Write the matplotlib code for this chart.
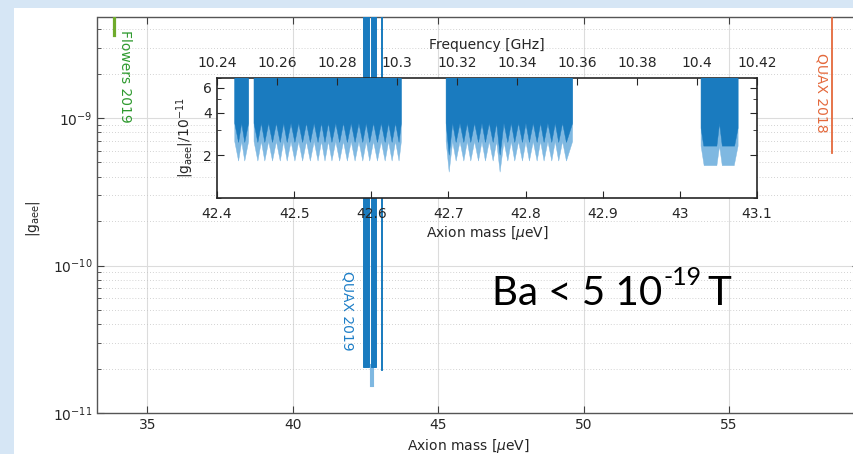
import matplotlib
matplotlib.use("Agg")
import matplotlib.pyplot as plt
import numpy as np
from matplotlib.patches import Rectangle
from matplotlib.ticker import FixedLocator, NullFormatter, LogLocator

# ---------------- data ----------------
# inset curves in units of 1e-11, x in ueV
b1_edges = [42.423, 42.441]
b1_tips = [42.428, 42.436]
b1_dark = [2.46, 2.46]
b1_light = [1.82, 1.82]

b2_edges = [42.448, 42.639]
b2_tips = [42.453, 42.462, 42.472, 42.482, 42.491, 42.501, 42.511, 42.521, 42.531, 42.540,
           42.549, 42.559, 42.569, 42.579, 42.589, 42.598, 42.608, 42.618, 42.627, 42.636]
b2_dark = [2.46, 2.46, 2.46, 2.46, 2.46, 2.46, 2.46, 2.46, 2.46, 2.46,
           2.46, 2.46, 2.46, 2.46, 2.46, 2.46, 2.46, 2.46, 2.46, 2.46]
b2_light = [1.82, 1.82, 1.82, 1.82, 1.82, 1.82, 1.82, 1.82, 1.82, 1.82,
            1.82, 1.82, 1.82, 1.82, 1.82, 1.82, 1.82, 1.82, 1.82, 1.82]

b3_edges = [42.697, 42.861]
b3_tips = [42.701, 42.710, 42.720, 42.729, 42.739, 42.748, 42.758, 42.767, 42.777,
           42.786, 42.796, 42.805, 42.815, 42.824, 42.834, 42.843, 42.853]
b3_dark = [2.0, 2.46, 2.46, 2.46, 2.46, 2.46, 2.46, 2.0, 2.46,
           2.46, 2.46, 2.46, 2.46, 2.46, 2.46, 2.46, 2.46]
b3_light = [1.52, 1.82, 1.82, 1.82, 1.82, 1.82, 1.82, 1.52, 1.82,
            1.82, 1.82, 1.82, 1.82, 1.82, 1.82, 1.82, 1.82]

ridge_dark = 3.36
ridge_light = 2.5

b4_x_dark = [43.0275, 43.0275, 43.031, 43.048, 43.0515, 43.055, 43.071, 43.0755, 43.0755]
b4_dark = [1000, 3.1, 2.32, 2.32, 3.35, 2.32, 2.32, 3.1, 1000]
b4_x_light = [43.0275, 43.0275, 43.0315, 43.048, 43.0515, 43.055, 43.0705, 43.0755, 43.0755]
b4_light = [1000, 2.32, 1.69, 1.69, 2.32, 1.69, 1.69, 2.32, 1000]

# full-range panel: dark bands down to a floor, light spike at the deep tips
main_dark_floor = [2.05, 2.05, 2.05, 1.95]
main_spike_x = [42.701, 42.767]
main_spike_low = [1.52, 1.52]

top_val = 1000  # above every axis top

flowers_x = 33.87
flowers_bottom = 3.65e-9
quax18_x = 58.53
quax18_bottom = 5.8e-10

main_xticks = [35, 40, 45, 50, 55]
inset_xticks = [42.4, 42.5, 42.6, 42.7, 42.8, 42.9, 43.0, 43.1]
inset_xlabels = ["42.4", "42.5", "42.6", "42.7", "42.8", "42.9", "43", "43.1"]
freq_ticks = [10.24, 10.26, 10.28, 10.30, 10.32, 10.34, 10.36, 10.38, 10.40, 10.42]
freq_labels = ["10.24", "10.26", "10.28", "10.3", "10.32", "10.34", "10.36", "10.38", "10.4", "10.42"]
inset_yticks = [2, 4, 6]

dark_c = "#1a7bbf"
light_c = "#7fb8e1"
axcol = "#262626"


def saw(edges, tips, vals, ridge):
    xs = [edges[0], edges[0]]
    ys = [top_val, ridge]
    for i in range(len(tips)):
        if i > 0:
            xs.append((tips[i - 1] + tips[i]) / 2)
            ys.append(ridge)
        xs.append(tips[i])
        ys.append(vals[i])
    xs += [edges[1], edges[1]]
    ys += [ridge, top_val]
    return xs, ys


blocks = [(b1_edges, b1_tips, b1_dark, b1_light),
          (b2_edges, b2_tips, b2_dark, b2_light),
          (b3_edges, b3_tips, b3_dark, b3_light)]

plt.rcParams["font.family"] = "DejaVu Sans"
plt.rcParams["font.size"] = 10

fig = plt.figure(figsize=(8.54, 4.54), dpi=100)
fig.patch.set_facecolor("#d6e6f5")
panel = Rectangle((14 / 854, 0), 1, 446 / 454, transform=fig.transFigure,
                  facecolor="white", edgecolor="none", zorder=-10)
fig.add_artist(panel)

# ---------------- main axes ----------------
ax = fig.add_axes([97.5 / 854, 41 / 454, 761.5 / 854, 396 / 454])
ax.patch.set_alpha(0)
ax.set_yscale("log")
ax.set_xlim(33.288, 59.47)
ax.set_ylim(1e-11, 4.84e-9)

for sx, lo in zip(main_spike_x, main_spike_low):
    ax.plot([sx, sx], [lo * 1e-11, 2.1e-11], color=light_c, lw=1.5, zorder=2)
all_edges = [b1_edges, b2_edges, b3_edges, [b4_x_dark[0], b4_x_dark[-1]]]
for e, fl in zip(all_edges, main_dark_floor):
    ax.fill([e[0], e[0], e[1], e[1]], [top_val * 1e-11, fl * 1e-11, fl * 1e-11, top_val * 1e-11],
            color=dark_c, lw=0.7, ec=dark_c, zorder=3)

ax.plot([flowers_x, flowers_x], [flowers_bottom, 1e-8], color="#6fab2c", lw=2.3, zorder=4)
ax.text(flowers_x + 0.38, 1.93e-9, "Flowers 2019", color="#2f9a2f", rotation=-90,
        ha="center", va="center", fontsize=10)
ax.plot([quax18_x, quax18_x], [quax18_bottom, 1e-8], color="#e4693c", lw=1.3, zorder=4)
ax.text(quax18_x - 0.34, 1.48e-9, "QUAX 2018", color="#e4693c", rotation=-90,
        ha="center", va="center", fontsize=10)
ax.text(41.90, 4.95e-11, "QUAX 2019", color="#1f7fc7", rotation=-90,
        ha="center", va="center", fontsize=10)

ax.set_xticks(main_xticks)
ax.yaxis.set_major_locator(LogLocator(base=10, numticks=10))
ax.yaxis.set_minor_locator(LogLocator(base=10, subs=np.arange(2, 10), numticks=10))
ax.yaxis.set_minor_formatter(NullFormatter())
ax.tick_params(which="both", direction="in", top=True, right=True, color="#404040",
               labelcolor=axcol, labelsize=10)
ax.tick_params(which="major", length=5)
ax.tick_params(which="minor", length=3)
ax.grid(True, which="major", color="#dcdcdc", lw=0.8, zorder=0)
ax.grid(True, which="minor", axis="y", color="#c4c4c4", lw=0.6, ls=(0, (1, 2.5)), zorder=0)
ax.set_axisbelow(True)
for s in ax.spines.values():
    s.set_color("#555555")
    s.set_linewidth(1.0)
ax.set_xlabel(r"Axion mass [$\mu$eV]", color=axcol, fontsize=10)
ax.xaxis.set_label_coords(0.4866, -0.061)
ax.set_ylabel(r"|g$_{\rm aee}$|", color=axcol, fontsize=10)
ax.yaxis.set_label_coords(-0.073, 0.49)

# ---------------- inset ----------------
ins = fig.add_axes([217 / 854, 256 / 454, 540 / 854, 120 / 454])
ins.set_facecolor("white")
ins.set_yscale("log")
ins.set_xlim(42.4, 43.1)
ins.set_ylim(1, 7)
for edges, tips, dk, lt in blocks:
    xl, yl = saw(edges, tips, lt, ridge_light)
    ins.fill(xl, yl, color=light_c, lw=0.3, ec=light_c, zorder=2)
ins.fill(b4_x_light, b4_light, color=light_c, lw=0.3, ec=light_c, zorder=2)
for edges, tips, dk, lt in blocks:
    xd, yd = saw(edges, tips, dk, ridge_dark)
    ins.fill(xd, yd, color=dark_c, lw=0.3, ec=dark_c, zorder=3)
ins.fill(b4_x_dark, b4_dark, color=dark_c, lw=0.3, ec=dark_c, zorder=3)

ins.set_xticks(inset_xticks)
ins.set_xticklabels(inset_xlabels)
ins.yaxis.set_major_locator(FixedLocator(inset_yticks))
ins.yaxis.set_minor_locator(FixedLocator([1, 3, 5, 7]))
ins.set_yticklabels([str(v) for v in inset_yticks])
ins.yaxis.set_minor_formatter(NullFormatter())
ins.tick_params(which="both", direction="in", top=True, right=True, color=axcol,
                labelcolor=axcol, labelsize=10)
ins.tick_params(which="major", length=5)
ins.tick_params(which="minor", length=3)
ins.tick_params(axis="x", pad=6.5)
for s in ins.spines.values():
    s.set_color(axcol)
    s.set_linewidth(1.2)
ins.set_xlabel(r"Axion mass [$\mu$eV]", color=axcol, fontsize=10, labelpad=2.5)
ins.set_ylabel(r"|g$_{\rm aee}$|/10$^{-11}$", color=axcol, fontsize=10, labelpad=5)

top = ins.twiny()
top.set_xlim(10.24, 10.42)
top.set_xticks(freq_ticks)
top.set_xticklabels(freq_labels)
top.tick_params(direction="in", length=5, color=axcol, labelcolor=axcol, labelsize=10, pad=5.5)
top.set_xlabel("Frequency [GHz]", color=axcol, fontsize=10, labelpad=5.5)
for s in top.spines.values():
    s.set_visible(False)

# ---------------- big annotation ----------------
t1 = fig.text(492 / 854, 149 / 454, "Ba < 5 10", fontsize=29, family="Lato",
              va="baseline", color="black")
a2 = fig.add_artist(plt.Annotation("-19", xy=(1, 169 / 454), xycoords=(t1, "figure fraction"),
                                   xytext=(1.0, 0), textcoords="offset points",
                                   fontsize=18, family="Lato", va="baseline", color="black"))
a3 = fig.add_artist(plt.Annotation("T", xy=(1, 149 / 454), xycoords=(a2, "figure fraction"),
                                   xytext=(4, 0), textcoords="offset points",
                                   fontsize=29, family="Lato", va="baseline", color="black"))

fig.savefig("out.png", dpi=100, facecolor=fig.get_facecolor())
